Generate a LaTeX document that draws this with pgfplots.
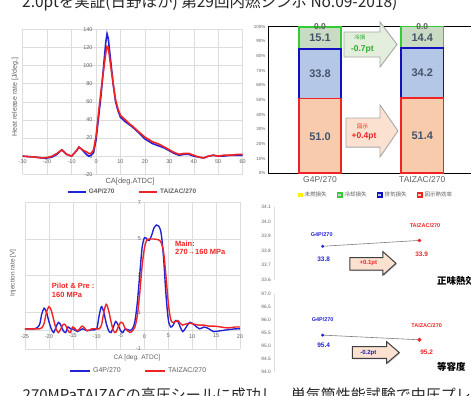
\documentclass[border=0pt]{standalone}
\usepackage{pgfplots}
\pgfplotsset{compat=1.18}
\usepackage{pgfplotstable}
\usepackage{fontspec}
\setmainfont{Liberation Sans}
\newfontfamily\cjk{Noto Sans CJK JP}
\usetikzlibrary{shadows}
\definecolor{gblue}{HTML}{2323D6}
\definecolor{tred}{HTML}{F02424}
\definecolor{gridgray}{HTML}{DDDDDD}
\definecolor{tickgray}{HTML}{606060}
\definecolor{numc}{HTML}{44546A}
\definecolor{rfill}{HTML}{F8CBAD}
\definecolor{bfill}{HTML}{B4C7E7}
\definecolor{gfill}{HTML}{CADBC3}
\definecolor{gedge}{HTML}{33CC33}
\definecolor{bedge}{HTML}{1010C0}
\definecolor{gtext}{HTML}{2EA82E}
\definecolor{afill}{HTML}{FBE1D0}
\definecolor{agfill}{HTML}{E3EEDC}

\pgfplotstableread{
x b r
-30 0 0
-25 -1 -1
-22 -2 -2
-20 -2 -1.5
-18 -1 0
-16 2 3
-14 7 7
-12 2 2
-10 0 0
-8 6 6
-7 10 10
-6 8 8
-5 5 6
-4 2 5
-3 0 3
-2 1 3
-1 4 7
0 18 22
1 42 47
2 66 71
3 96 93
4 126 114
4.5 135 121
5 130 120
6 105 100
7 80 80
8 60 62
9 50 52
10 43 45
12 38 40
14 34 35
15 32 33
17 27 28
20 19 21
23 14 16
26 11 13
28 9 10
30 6 7
32 3 4
34 1 2
36 2 3
38 2 3
40 0 1
42 -1 -1
44 -2 -2
46 0 0
48 1 1
50 0 0
52 0 1
55 1 1
58 1 2
60 1 2
}\hrtab

\pgfplotstableread{
x b r
-25 0.1 0.1
-23 0.1 0.1
-22 0.3 0.1
-21.5 0.9 0.15
-21 1.22 0.4
-20.5 1.0 1.0
-20 0.5 1.31
-19.5 0.1 1.1
-19 -0.1 0.6
-18.5 0.2 0.1
-18 0.45 -0.1
-17.5 0.3 0.1
-17 0.0 0.35
-16.5 -0.1 0.3
-16 0.2 0.0
-15.5 0.1 -0.1
-15 0.1 0.2
-14 -0.05 0.0
-13 0.1 0.25
-12 0.0 0.0
-11 0.05 0.1
-10 0.1 0.1
-9.5 0.8 0.1
-9 1.31 0.3
-8.5 1.0 1.0
-8 0.4 1.44
-7.5 0.0 1.1
-7 -0.1 0.5
-6.5 0.2 0.0
-6 0.5 -0.1
-5.5 0.3 0.2
-5 0.0 0.45
-4.5 -0.1 0.4
-4 0.1 0.1
-3 0.0 -0.1
-2.5 0.1 0.0
-2 0.5 0.2
-1.5 1.5 0.8
-1 3.0 2.0
-0.5 4.5 3.5
0 5.07 4.5
0.5 5.0 4.95
1 4.92 5.0
1.5 5.2 5.0
2 5.6 5.0
2.5 5.76 4.98
3 5.7 4.95
3.5 5.3 4.8
4 4.0 4.3
4.5 2.0 3.0
5 0.6 1.5
5.5 0.2 0.6
6 0.3 0.45
6.5 0.55 0.5
7 0.5 0.55
7.5 0.2 0.4
8 -0.05 0.3
8.5 0.1 0.35
9.5 0.45 0.4
10.5 0.3 0.35
11.5 0.1 0.3
12.5 0.2 0.3
13.5 0.1 0.25
14.5 -0.05 0.25
16 0.0 0.2
17.5 0.05 0.15
19 0.1 0.2
20 0.1 0.2
}\injtab

\begin{document}
\begin{tikzpicture}[x=1pt,y=1pt]
\useasboundingbox (0,0) rectangle (471,396);
\clip (0,0) rectangle (471,396);

% top and bottom text
\node[anchor=base west, font=\cjk\fontsize{15.5}{16}\selectfont, text=black!85, inner sep=0pt] at (22,388) {2.0ptを実証(日野ほか) 第29回内燃シンポ No.09-2018)};
\node[anchor=base west, font=\cjk\fontsize{15}{16}\selectfont, text=black!85, inner sep=0pt] at (22.5,-4.5) {270MPaTAIZACの高圧シールに成功し、単気筒性能試験で中圧プレ噴射};

% ---------- Heat release ----------
\begin{axis}[at={(22.7pt,221.7pt)}, anchor=south west, scale only axis,
  width=220pt, height=145pt, clip=false,
  xmin=-30, xmax=60, ymin=-20, ymax=140,
  axis lines=middle, axis line style={-, draw=gridgray},
  hide obscured x ticks=false, hide obscured y ticks=false,
  xtick={-30,-20,...,60}, ytick={-20,0,...,140},
  major tick length=0pt,
  grid=major, grid style={gridgray, line width=0.4pt},
  tick label style={font=\fontsize{5.5}{6}\selectfont, text=tickgray},
  /pgf/number format/assume math mode=true,
  legend style={at={(axis description cs:0.5,-0.122)}, anchor=center, draw=none, fill=none,
    legend columns=2, font=\bfseries\fontsize{6.5}{7}\selectfont, text=tickgray,
    /tikz/every even column/.append style={column sep=22pt}},
  legend image code/.code={\draw[#1] (0pt,0pt) -- (18pt,0pt);},
]
\addplot[gblue, line width=1.6pt] table[x=x,y=b] {\hrtab};
\addplot[tred, line width=1.6pt] table[x=x,y=r] {\hrtab};
\legend{G4P/270, TAIZAC/270}
\node[font=\fontsize{7.5}{8}\selectfont, text=tickgray] at (axis description cs:0.488,-0.053) {CA[deg.ATDC]};
\node[font=\fontsize{7}{8}\selectfont, text=tickgray, rotate=90] at (axis description cs:-0.035,0.533) {Heat release rate [J/deg.]};
\end{axis}

% ---------- Injection rate ----------
\begin{axis}[at={(25pt,47pt)}, anchor=south west, scale only axis,
  width=215pt, height=146.7pt, clip=false,
  xmin=-25, xmax=20, ymin=-1, ymax=7,
  axis lines=middle, axis line style={-, draw=gridgray},
  hide obscured x ticks=false, hide obscured y ticks=false,
  xtick={-25,-20,...,20}, ytick={-1,1,...,7},
  major tick length=0pt,
  grid=major, grid style={gridgray, line width=0.4pt},
  tick label style={font=\fontsize{5.5}{6}\selectfont, text=tickgray},
  /pgf/number format/assume math mode=true,
  legend style={at={(axis description cs:0.53,-0.15)}, anchor=center, draw=none, fill=none,
    legend columns=2, font=\fontsize{7}{8}\selectfont, text=tickgray,
    /tikz/every even column/.append style={column sep=22pt}},
  legend image code/.code={\draw[#1] (0pt,0pt) -- (20pt,0pt);},
]
\addplot[gblue, line width=1.4pt, smooth, tension=0.5] table[x=x,y=b] {\injtab};
\addplot[tred, line width=1.4pt, smooth, tension=0.5] table[x=x,y=r] {\injtab};
\legend{G4P/270, TAIZAC/270}
\node[font=\fontsize{6.5}{7}\selectfont, text=tickgray] at (axis description cs:0.521,-0.061) {CA [deg. ATDC]};
\node[font=\fontsize{6.5}{7}\selectfont, text=tickgray, rotate=90] at (axis description cs:-0.056,0.518) {Injection rate [V]};
\node[font=\bfseries\fontsize{7.5}{8.5}\selectfont, text=tred, anchor=north west, align=left, inner sep=0pt] at (axis cs:-19.4,2.6) {Pilot \& Pre :\\160 MPa};
\node[font=\bfseries\fontsize{7.5}{8.5}\selectfont, text=tred, anchor=north west, align=left, inner sep=0pt] at (axis cs:6.4,4.9) {Main:\\270→160 MPa};
\end{axis}

% ---------- Stacked bars ----------
\begin{axis}[at={(268.85pt,222.7pt)}, anchor=south west, scale only axis,
  width=204.6pt, height=146.6pt, clip=false,
  xmin=-0.5, xmax=1.5, ymin=0, ymax=100,
  ybar stacked, bar width=42.3pt,
  axis line style={black, line width=1pt},
  xtick={0,1}, xticklabels={G4P/270, TAIZAC/270},
  ytick={0,10,...,100}, yticklabel={\pgfmathprintnumber{\tick}\%},
  major tick length=0pt,
  xticklabel style={font=\fontsize{8.5}{9}\selectfont, text=tickgray},
  yticklabel style={font=\fontsize{4.5}{5}\selectfont, text=tickgray},
  /pgf/number format/assume math mode=true,
  legend style={at={(axis description cs:0.524,-0.148)}, anchor=center, draw=none, fill=none,
    legend columns=4, font=\cjk\fontsize{5.5}{6}\selectfont, text=tickgray,
    /tikz/every even column/.append style={column sep=8pt}},
  legend image code/.code={\path[#1] (0pt,-2.2pt) rectangle (4.4pt,2.2pt);},
  reverse legend,
]
\addplot[fill=rfill, draw=tred, line width=1.6pt] coordinates {(0,51.0) (1,51.4)};
\addplot[fill=bfill, draw=bedge, line width=1.6pt] coordinates {(0,33.8) (1,34.2)};
\addplot[fill=gfill, draw=gedge, line width=1.6pt] coordinates {(0,15.1) (1,14.4)};
\addplot[fill=yellow, draw=none] coordinates {(0,0.0) (1,0.0)};
\legend{図示熱効率, 排気損失, 冷却損失, 未燃損失}
\end{axis}
% overlay for bar annotations
\begin{axis}[at={(268.85pt,222.7pt)}, anchor=south west, scale only axis,
  width=204.6pt, height=146.6pt, clip=false, hide axis,
  xmin=-0.5, xmax=1.5, ymin=0, ymax=100]
\addplot[draw=none, forget plot] coordinates {(0,0)};
\node[font=\bfseries\fontsize{11}{12}\selectfont, text=numc] at (axis cs:0,25.2) {51.0};
\node[font=\bfseries\fontsize{11}{12}\selectfont, text=numc] at (axis cs:0,67.8) {33.8};
\node[font=\bfseries\fontsize{11}{12}\selectfont, text=numc] at (axis cs:0,92.2) {15.1};
\node[font=\bfseries\fontsize{11}{12}\selectfont, text=numc] at (axis cs:1,25.5) {51.4};
\node[font=\bfseries\fontsize{11}{12}\selectfont, text=numc] at (axis cs:1,68.3) {34.2};
\node[font=\bfseries\fontsize{11}{12}\selectfont, text=numc] at (axis cs:1,92.6) {14.4};
\node[font=\bfseries\fontsize{8.5}{9}\selectfont, text=tickgray] at (axis cs:0,100.3) {0.0};
\node[font=\bfseries\fontsize{8.5}{9}\selectfont, text=tickgray] at (axis cs:1,100.3) {0.0};
\draw[fill=agfill, draw=gray!70, line width=0.9pt]
  (axis cs:0.2346,96.4) -- (axis cs:0.5865,96.4) -- (axis cs:0.5865,103.2) -- (axis cs:0.7527,87.9)
  -- (axis cs:0.5865,72.5) -- (axis cs:0.5865,79.3) -- (axis cs:0.2346,79.3) -- cycle;
\draw[fill=afill, draw=gray!70, line width=0.9pt]
  (axis cs:0.254,37.7) -- (axis cs:0.5865,37.7) -- (axis cs:0.5865,46.6) -- (axis cs:0.762,28.9)
  -- (axis cs:0.5865,11.1) -- (axis cs:0.5865,17.9) -- (axis cs:0.254,17.9) -- cycle;
\node[font=\cjk\fontsize{5.5}{6}\selectfont, text=gtext] at (axis cs:0.39,92.8) {冷損};
\node[font=\bfseries\fontsize{8.5}{9}\selectfont, text=gtext] at (axis cs:0.414,84.6) {-0.7pt};
\node[font=\cjk\fontsize{5.5}{6}\selectfont, text=tred] at (axis cs:0.417,31.8) {図示};
\node[font=\bfseries\fontsize{8.5}{9}\selectfont, text=tred] at (axis cs:0.43,25) {+0.4pt};
\end{axis}

% ---------- Net thermal efficiency ----------
\begin{axis}[at={(274.3pt,116pt)}, anchor=south west, scale only axis,
  width=198.4pt, height=73.3pt, clip=false,
  xmin=0.5, xmax=2.55, ymin=33.6, ymax=34.1,
  axis x line=none, axis y line=left, axis line style={-, draw=gridgray, line width=0.8pt},
  ytick={33.6,33.7,33.8,33.9,34.0,34.1},
  major tick length=0pt,
  yticklabel style={font=\fontsize{4.8}{5}\selectfont, text=tickgray, /pgf/number format/.cd, fixed, fixed zerofill, precision=1},
  /pgf/number format/assume math mode=true,
]
\addplot[gray, line width=0.6pt] coordinates {(1,33.83) (2,33.87)};
\addplot[only marks, mark=*, mark size=1.3pt, gblue] coordinates {(1,33.83)};
\addplot[only marks, mark=*, mark size=1.6pt, tred] coordinates {(2,33.87)};
\node[font=\bfseries\fontsize{5.5}{6}\selectfont, text=gblue] at (axis cs:0.99,33.912) {G4P/270};
\node[font=\bfseries\fontsize{6.5}{7}\selectfont, text=gblue] at (axis cs:1.01,33.743) {33.8};
\node[font=\bfseries\fontsize{5.5}{6}\selectfont, text=tred] at (axis cs:2.057,33.970) {TAIZAC/270};
\node[font=\bfseries\fontsize{6.5}{7}\selectfont, text=tred] at (axis cs:2.023,33.775) {33.9};
\draw[fill=afill, draw=black!75, line width=1pt, drop shadow={shadow xshift=1pt, shadow yshift=-1pt, opacity=0.4}]
  (axis cs:1.282,33.752) -- (axis cs:1.623,33.752) -- (axis cs:1.623,33.793) -- (axis cs:1.757,33.714)
  -- (axis cs:1.623,33.634) -- (axis cs:1.623,33.668) -- (axis cs:1.282,33.668) -- cycle;
\node[font=\bfseries\fontsize{6}{7}\selectfont, text=tred] at (axis cs:1.472,33.716) {+0.1pt};
\node[font=\cjk\bfseries\fontsize{9.5}{10}\selectfont, text=black, anchor=west, inner sep=0pt] at (axis cs:2.181,33.593) {正味熱効率};
\end{axis}

% ---------- Constant volume degree ----------
\begin{axis}[at={(274.3pt,23.7pt)}, anchor=south west, scale only axis,
  width=198.4pt, height=78pt, clip=false,
  xmin=0.5, xmax=2.55, ymin=94, ymax=97,
  axis x line=none, axis y line=left, axis line style={-, draw=gridgray, line width=0.8pt},
  ytick={94,94.5,95,95.5,96,96.5,97},
  major tick length=0pt,
  yticklabel style={font=\fontsize{4.8}{5}\selectfont, text=tickgray, /pgf/number format/.cd, fixed, fixed zerofill, precision=1},
  /pgf/number format/assume math mode=true,
]
\addplot[gray, line width=0.6pt] coordinates {(1,95.43) (2,95.25)};
\addplot[only marks, mark=*, mark size=1.3pt, gblue] coordinates {(1,95.43)};
\addplot[only marks, mark=*, mark size=1.8pt, tred] coordinates {(2,95.25)};
\node[font=\bfseries\fontsize{5.5}{6}\selectfont, text=gblue] at (axis cs:1.0,96.04) {G4P/270};
\node[font=\bfseries\fontsize{6.5}{7}\selectfont, text=gblue] at (axis cs:1.01,95.05) {95.4};
\node[font=\bfseries\fontsize{5.5}{6}\selectfont, text=tred] at (axis cs:2.074,95.78) {TAIZAC/270};
\node[font=\bfseries\fontsize{6.5}{7}\selectfont, text=tred] at (axis cs:2.074,94.77) {95.2};
\draw[fill=afill, draw=black!75, line width=1pt, drop shadow={shadow xshift=1pt, shadow yshift=-1pt, opacity=0.4}]
  (axis cs:1.307,94.985) -- (axis cs:1.661,94.985) -- (axis cs:1.661,95.177) -- (axis cs:1.791,94.762)
  -- (axis cs:1.661,94.346) -- (axis cs:1.661,94.538) -- (axis cs:1.307,94.538) -- cycle;
\node[font=\bfseries\fontsize{6}{7}\selectfont, text=gblue!80!black] at (axis cs:1.471,94.74) {-0.2pt};
\node[font=\cjk\bfseries\fontsize{9.5}{10}\selectfont, text=black, anchor=west, inner sep=0pt] at (axis cs:2.181,94.215) {等容度};
\end{axis}
\end{tikzpicture}
\end{document}
